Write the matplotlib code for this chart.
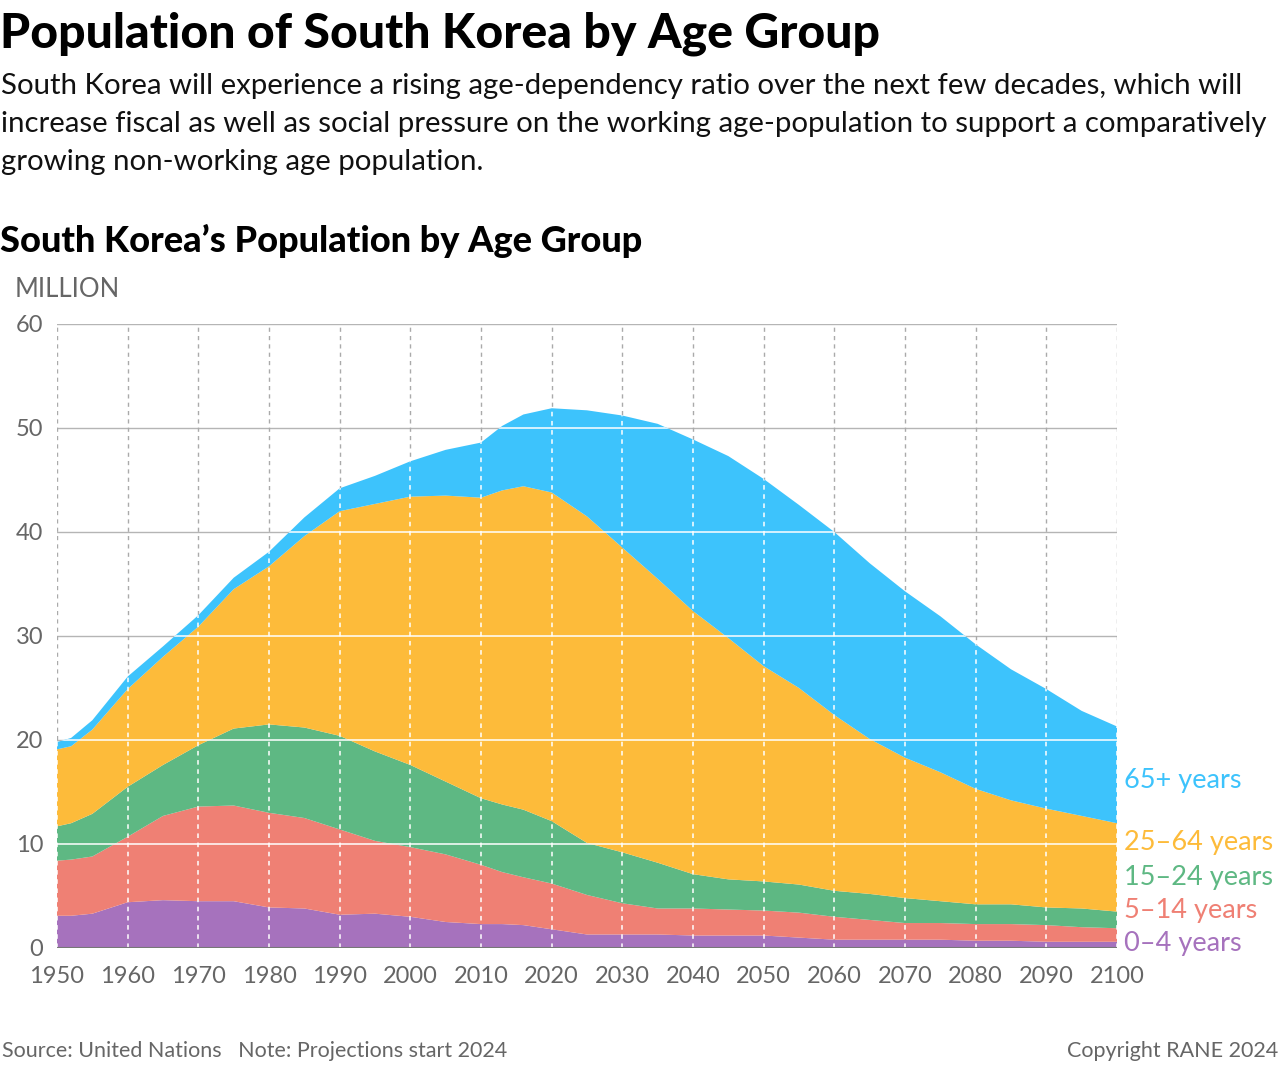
import numpy as np
import matplotlib
matplotlib.use("Agg")
import matplotlib.pyplot as plt
from matplotlib.patches import Polygon

plt.rcParams["font.family"] = ["Lato", "DejaVu Sans"]

# ── data (million people) ──────────────────────────────────────────────────
years = [1950, 1952, 1955, 1960, 1965, 1970, 1975, 1980, 1985, 1990, 1995,
         2000, 2005, 2010, 2013, 2016, 2020, 2025, 2030, 2035, 2040, 2045,
         2050, 2055, 2060, 2065, 2070, 2075, 2080, 2085, 2090, 2095, 2100]

age_0_4 = [3.1, 3.1, 3.3, 4.4, 4.6, 4.5, 4.5, 3.9, 3.8, 3.2, 3.3,
           3.0, 2.5, 2.3, 2.3, 2.2, 1.8, 1.3, 1.3, 1.3, 1.2, 1.2,
           1.2, 1.0, 0.8, 0.8, 0.8, 0.8, 0.7, 0.7, 0.6, 0.6, 0.6]
age_5_14 = [5.3, 5.4, 5.5, 6.3, 8.1, 9.1, 9.2, 9.1, 8.7, 8.2, 7.0,
            6.7, 6.5, 5.7, 5.0, 4.6, 4.4, 3.8, 3.0, 2.5, 2.6, 2.5,
            2.4, 2.4, 2.2, 1.9, 1.6, 1.6, 1.6, 1.6, 1.6, 1.4, 1.3]
age_15_24 = [3.3, 3.5, 4.1, 4.8, 4.9, 5.9, 7.4, 8.5, 8.7, 9.0, 8.6,
             7.9, 7.0, 6.4, 6.5, 6.5, 6.0, 5.0, 4.9, 4.4, 3.3, 2.9,
             2.8, 2.7, 2.5, 2.5, 2.4, 2.1, 1.9, 1.9, 1.7, 1.8, 1.6]
age_25_64 = [7.4, 7.4, 8.1, 9.4, 10.4, 11.4, 13.4, 15.2, 18.4, 21.6, 23.8,
             25.8, 27.5, 28.9, 30.2, 31.1, 31.6, 31.4, 29.3, 27.3, 25.3, 23.2,
             20.7, 18.9, 16.9, 14.9, 13.5, 12.4, 11.1, 10.0, 9.5, 8.9, 8.5]
age_65_plus = [0.7, 0.8, 0.9, 1.2, 1.0, 1.1, 1.1, 1.4, 1.8, 2.2, 2.7,
               3.4, 4.4, 5.3, 6.2, 6.9, 8.1, 10.2, 12.7, 14.9, 16.5, 17.5,
               18.0, 17.6, 17.6, 16.9, 16.0, 15.0, 13.9, 12.6, 11.5, 10.1, 9.3]

group_labels = ["0–4 years", "5–14 years", "15–24 years", "25–64 years", "65+ years"]
group_colors = ["#a672bd", "#ef8074", "#5eb883", "#fdbb3a", "#3dc3fc"]
label_y = [0.4, 3.65, 6.8, 10.1, 16.1]

x_ticks = list(range(1950, 2101, 10))
y_ticks = list(range(0, 61, 10))

W, H = 1280, 1078
GRAY = "#666666"


def fy(py):
    return 1 - py / H


fig = plt.figure(figsize=(W / 100, H / 100), dpi=100, facecolor="white")
ax = fig.add_axes([57 / W, fy(948), (1117 - 57) / W, (948 - 324) / H])

series = [age_0_4, age_5_14, age_15_24, age_25_64, age_65_plus]
ax.stackplot(years, *series, colors=group_colors, linewidth=0, zorder=2)

# grid: gray behind, white on top of the filled area
for yv in y_ticks[1:]:
    ax.axhline(yv, color="#b5b5b5", linewidth=1, zorder=1)
for xv in x_ticks:
    ax.axvline(xv, color="#aaaaaa", linewidth=1, linestyle=(0, (3, 3)), zorder=1)

total = np.sum(series, axis=0)
clip = Polygon(np.column_stack([years + [2100, 1950], list(total) + [0, 0]]),
               closed=True, facecolor="none", edgecolor="none",
               transform=ax.transData)
ax.add_patch(clip)
for yv in y_ticks[1:]:
    ln = ax.axhline(yv, color="white", linewidth=1.1, zorder=3)
    ln.set_clip_path(clip)
for xv in x_ticks:
    ln = ax.axvline(xv, color="white", linewidth=1.1, linestyle=(0, (3, 3)), zorder=3)
    ln.set_clip_path(clip)
ax.axhline(0, color="#777777", linewidth=1.5, zorder=4)

ax.set_xlim(1950, 2100)
ax.set_ylim(0, 60)
ax.set_xticks(x_ticks)
ax.set_yticks(y_ticks)
ax.tick_params(length=0, labelsize=17, colors=GRAY)
ax.tick_params(axis="x", pad=13)
ax.tick_params(axis="y", pad=10)
for sp in ax.spines.values():
    sp.set_visible(False)

for lab, col, yv in zip(group_labels, group_colors, label_y):
    ax.text(2101, yv, lab, color=col, fontsize=19.5, va="center", ha="left",
            clip_on=False)

# ── text ──────────────────────────────────────────────────────────────────
fig.text(0, fy(34), "Population of South Korea by Age Group", fontsize=34.7,
         fontweight="black", va="center", ha="left", color="black")
subtitle = ("South Korea will experience a rising age-dependency ratio over the next few decades, which will\n"
            "increase fiscal as well as social pressure on the working age-population to support a comparatively\n"
            "growing non-working age population.")
fig.text(0.001, fy(73), subtitle, fontsize=21.2, va="top", ha="left",
         color="#111111", linespacing=1.57)
fig.text(0, fy(241), "South Korea’s Population by Age Group", fontsize=26,
         fontweight="black", va="center", ha="left", color="black")
fig.text(15 / W, fy(289), "MILLION", fontsize=18.5, va="center", ha="left", color=GRAY)

fig.text(2 / W, fy(1051), "Source: United Nations   Note: Projections start 2024",
         fontsize=15.5, va="center", ha="left", color=GRAY)
fig.text(1278 / W, fy(1051), "Copyright RANE 2024", fontsize=15.5,
         va="center", ha="right", color=GRAY)

fig.savefig("out.png", dpi=100, facecolor="white")
